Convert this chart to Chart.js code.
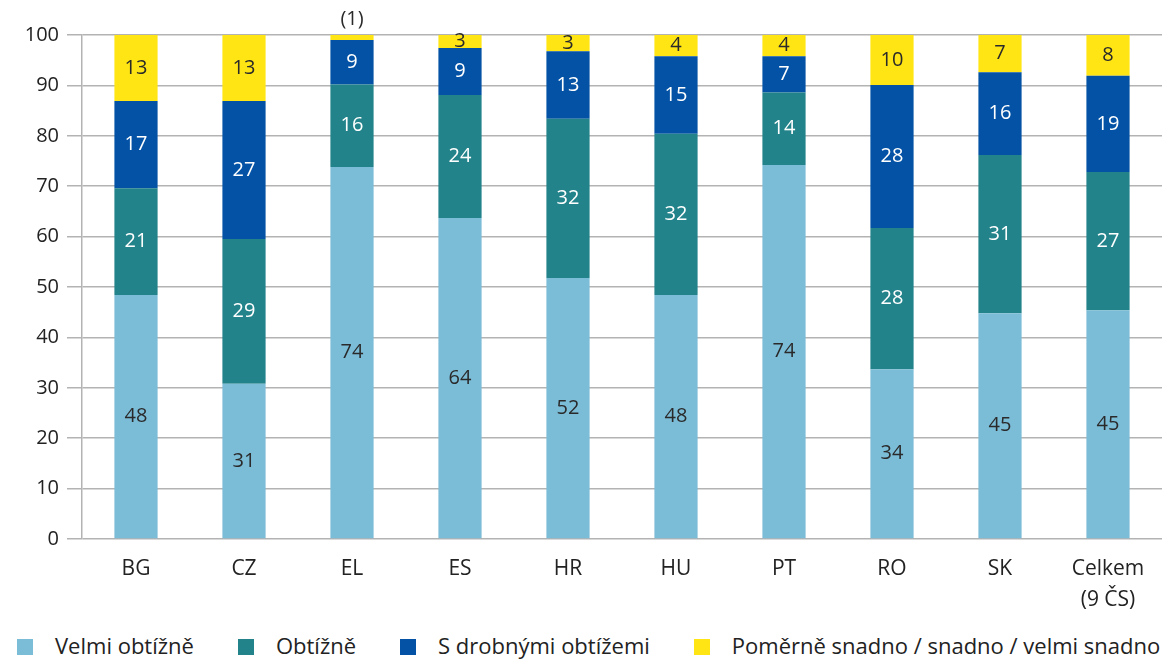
<!DOCTYPE html>
<html>
<head>
<meta charset="utf-8">
<script src="https://cdn.jsdelivr.net/npm/chart.js@4.4.0/dist/chart.umd.min.js"></script>
<style>
  body { margin: 0; background: #fff; font-family: "Open Sans", sans-serif; }
  #wrap { position: relative; width: 1167px; height: 659px; }
  #legend { position: absolute; left: 17px; top: 630px; display: flex; align-items: center; font-size: 22px; color: #222; }
  .item { display: flex; align-items: center; margin-right: 44px; white-space: nowrap; }
  .box { width: 16px; height: 16px; margin-right: 22px; margin-top: 4px; }
</style>
</head>
<body>
<div id="wrap">
  <canvas id="chart" width="1167" height="620"></canvas>
  <div id="legend"></div>
</div>
<script>
var categories = ['BG', 'CZ', 'EL', 'ES', 'HR', 'HU', 'PT', 'RO', 'SK', ['Celkem', '(9 ČS)']]
var seriesNames = ['Velmi obtížně', 'Obtížně', 'S drobnými obtížemi', 'Poměrně snadno / snadno / velmi snadno']
var seriesColors = ['#7bbcd7', '#22838a', '#0452a5', '#ffe514']
var labelColors = ['#2a2a2a', '#ffffff', '#ffffff', '#2a2a2a']

var velmiObtizne = [48.4, 30.8, 73.8, 63.7, 51.8, 48.4, 74.2, 33.7, 44.8, 45.4]
var obtizne      = [21.2, 28.7, 16.4, 24.4, 31.6, 32.0, 14.4, 28.0, 31.4, 27.4]
var drobne       = [17.3, 27.4,  8.8,  9.3, 13.4, 15.4,  7.2, 28.4, 16.4, 19.1]
var snadno       = [13.1, 13.1,  1.0,  2.6,  3.2,  4.2,  4.2,  9.9,  7.4,  8.1]
var yTicks = [0, 10, 20, 30, 40, 50, 60, 70, 80, 90, 100]

var seriesData = [velmiObtizne, obtizne, drobne, snadno]
var datasets = []
for (var i = 0; i < seriesData.length; i++) {
    datasets.push({
        label: seriesNames[i],
        data: seriesData[i],
        backgroundColor: seriesColors[i],
        barPercentage: 0.4,
        categoryPercentage: 1
    })
}

// values drawn on the segments
var barLabels = {
    id: 'barLabels',
    afterDatasetsDraw: function(chart) {
        var ctx = chart.ctx
        ctx.save()
        ctx.font = '20px "Open Sans"'
        ctx.textAlign = 'center'
        ctx.textBaseline = 'middle'
        chart.data.datasets.forEach(function(ds, di) {
            chart.getDatasetMeta(di).data.forEach(function(bar, j) {
                var v = Math.round(ds.data[j])
                if (ds.data[j] < 2) {
                    ctx.fillStyle = '#2a2a2a'
                    ctx.fillText('(' + v + ')', bar.x, bar.y - 16)
                } else {
                    ctx.fillStyle = labelColors[di]
                    ctx.fillText(v, bar.x, (bar.y + bar.base) / 2)
                }
            })
        })
        ctx.restore()
    }
}

var ctx = document.getElementById('chart')
var myChart = new Chart(ctx, {
    type: 'bar',
    data: { labels: categories, datasets: datasets },
    plugins: [barLabels],
    options: {
        responsive: false,
        animation: false,
        layout: { padding: { top: 35, right: 5, left: 0, bottom: 0 } },
        plugins: {
            legend: { display: false },
            tooltip: { enabled: false }
        },
        scales: {
            x: {
                stacked: true,
                grid: { display: false, drawTicks: false },
                border: { display: false },
                ticks: { color: '#222', font: { size: 21, family: 'Open Sans', lineHeight: 1.45 }, padding: 15, maxRotation: 0 },
                afterFit: function(s) { s.height = 81 }
            },
            y: {
                stacked: true,
                min: 0,
                max: 100,
                afterBuildTicks: function(s) { s.ticks = yTicks.map(function(v) { return { value: v } }) },
                grid: { color: '#b3b3b3', lineWidth: 1.5, tickLength: 15 },
                border: { display: true, color: '#b3b3b3', width: 1.5 },
                ticks: { color: '#222', font: { size: 20, family: 'Open Sans' }, padding: 8 },
                afterFit: function(s) { s.width = 82 }
            }
        }
    }
})

var legend = document.getElementById('legend')
for (var k = 0; k < seriesNames.length; k++) {
    var item = document.createElement('div')
    item.className = 'item'
    item.innerHTML = '<span class="box" style="background:' + seriesColors[k] + '"></span><span>' + seriesNames[k] + '</span>'
    legend.appendChild(item)
}
</script>
</body>
</html>
